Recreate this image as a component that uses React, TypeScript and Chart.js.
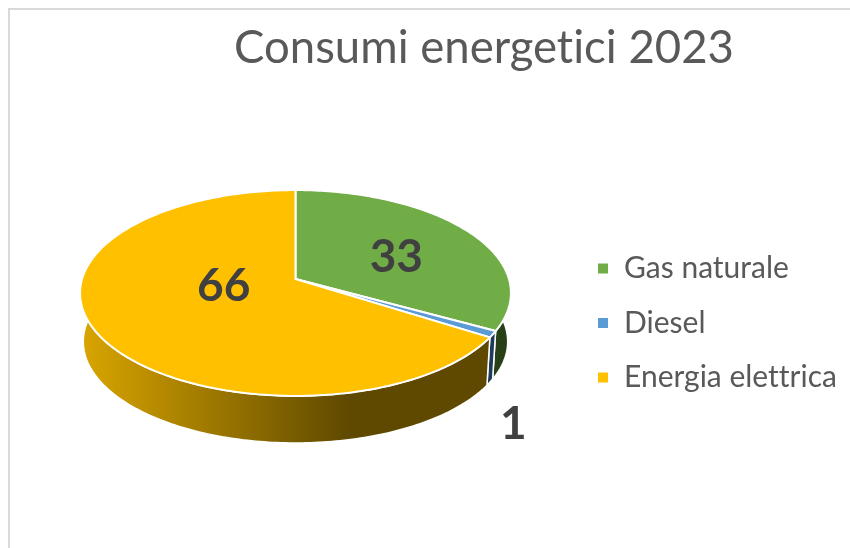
import React, { useEffect, useRef } from "react";
import { Chart, registerables } from "chart.js";

Chart.register(...registerables);

const categories = ["Gas naturale", "Diesel", "Energia elettrica"];
const values = [33, 1, 66];
const topColors = ["#70ad47", "#5b9bd5", "#ffc000"];
const titleText = "Consumi energetici 2023";

const sideStops = [
  ["#274017", "#274017"],
  ["#1f3b5c", "#1f3b5c"],
  ["#d9a500", "#5f4900"],
];
// label anchors relative to the pie centre, as fractions of the radius
const labelAnchors = [
  [0.47, -0.1],
  [1.015, 0.676],
  [-0.335, 0.033],
];

const FONT = "Lato, 'Open Sans', sans-serif";

// shape of the tilted pie, as fractions of the radius
const RX = 0.995;
const RY = 0.471;
const K = -0.136;
const BASE_SCALE = 0.985;
const BASE_DROP = 0.2275;
const STEP = Math.PI / 180;

const pie3d = {
  id: "pie3d",
  afterLayout(chart: any) {
    const legend = chart.legend;
    const w = legend.width;
    legend.left = 572.5;
    legend.right = 572.5 + w;
    legend.top = 229;
    legend.bottom = 229 + legend.height;
    const t = chart.titleBlock;
    t.left = 118;
    t.right = 850;
    t.top += 8;
    t.bottom += 8;
  },
  beforeDraw(chart: any) {
    const { ctx } = chart;
    ctx.textRendering = "optimizeSpeed";
    ctx.save();
    ctx.strokeStyle = "#d9d9d9";
    ctx.lineWidth = 2;
    ctx.strokeRect(9, 9, 900, 600);
    ctx.restore();
  },
  beforeDatasetsDraw(chart: any) {
    const { ctx } = chart;
    const arcs = chart.getDatasetMeta(0).data;
    const { x: cx, y: cy, outerRadius: R } = arcs[0];
    const proj = (a: number, base: boolean) => {
      const t = a + Math.PI / 2;
      const u = Math.sin(t);
      const v = -Math.cos(t);
      const w = 1 + K * v;
      const X = (R * RX * u) / w;
      const Y = (R * RY * v) / w;
      return base
        ? [cx + X * BASE_SCALE, cy + R * BASE_DROP + Y * BASE_SCALE]
        : [cx + X, cy + Y];
    };
    const rim = (s: number, e: number, base: boolean) => {
      const pts: number[][] = [];
      for (let a = s; a < e; a += STEP) pts.push(proj(a, base));
      pts.push(proj(e, base));
      return pts;
    };
    ctx.save();
    ctx.lineJoin = "round";
    // walls
    arcs.forEach((arc: any, i: number) => {
      const top = rim(arc.startAngle, arc.endAngle, false);
      const bot = rim(arc.startAngle, arc.endAngle, true).reverse();
      const g = ctx.createLinearGradient(cx - R, 0, cx + R * 0.25, 0);
      g.addColorStop(0, sideStops[i][0]);
      g.addColorStop(1, sideStops[i][1]);
      ctx.beginPath();
      [...top, ...bot].forEach((p, k) => (k ? ctx.lineTo(p[0], p[1]) : ctx.moveTo(p[0], p[1])));
      ctx.closePath();
      ctx.fillStyle = g;
      ctx.fill();
      ctx.strokeStyle = "#ffffff";
      ctx.lineWidth = 1.5;
      ctx.stroke();
    });
    // top face
    arcs.forEach((arc: any) => {
      const pts = rim(arc.startAngle, arc.endAngle, false);
      ctx.beginPath();
      ctx.moveTo(cx, cy);
      pts.forEach((p) => ctx.lineTo(p[0], p[1]));
      ctx.closePath();
      ctx.fillStyle = arc.options.backgroundColor;
      ctx.fill();
      ctx.strokeStyle = arc.options.borderColor;
      ctx.lineWidth = 2;
      ctx.stroke();
    });
    ctx.restore();
    return false;
  },
  afterDraw(chart: any) {
    const { ctx } = chart;
    const arc0 = chart.getDatasetMeta(0).data[0];
    const { x: cx, y: cy, outerRadius: R } = arc0;
    ctx.save();
    ctx.fillStyle = "#404040";
    ctx.font = `bold 46px ${FONT}`;
    ctx.textAlign = "center";
    ctx.textBaseline = "middle";
    chart.data.datasets[0].data.forEach((v: number, i: number) => {
      ctx.fillText(String(v), cx + labelAnchors[i][0] * R, cy + labelAnchors[i][1] * R);
    });
    ctx.restore();
  },
};

export default function App() {
  const ref = useRef<HTMLCanvasElement>(null);
  useEffect(() => {
    const chart = new Chart(ref.current!, {
      type: "pie",
      data: {
        labels: categories,
        datasets: [
          {
            data: values,
            backgroundColor: topColors,
            borderColor: "#ffffff",
            borderWidth: 2,
          },
        ],
      },
      options: {
        responsive: false,
        animation: false,
        layout: { padding: { left: 80, right: 339, top: 18, bottom: 53.5 } },
        plugins: {
          tooltip: { enabled: false },
          title: {
            display: true,
            text: titleText,
            color: "#595959",
            padding: 0,
            font: { family: FONT, size: 45.5, weight: "normal", lineHeight: 1 },
          },
          legend: {
            position: "chartArea",
            align: "start",
            labels: {
              boxWidth: 12,
              boxHeight: 12,
              padding: 24.5,
              color: "#595959",
              font: { family: FONT, size: 30 },
            },
          },
        },
      },
      plugins: [pie3d],
    } as any);
    return () => chart.destroy();
  }, []);
  return (
    <canvas
      ref={ref}
      width={850}
      height={548}
      style={{ position: "fixed", left: 0, top: 0, display: "block" }}
    />
  );
}
